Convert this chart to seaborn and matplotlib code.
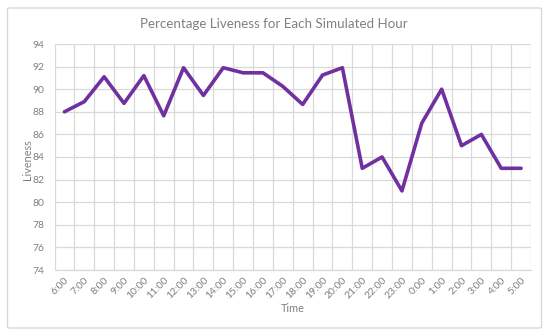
import matplotlib
matplotlib.use("Agg")
import matplotlib.pyplot as plt
from matplotlib.patches import FancyBboxPatch
from matplotlib.ticker import FixedLocator
import seaborn as sns
import pandas as pd

# -----------------------------
# Data
# -----------------------------
hours = ["6:00", "7:00", "8:00", "9:00", "10:00", "11:00", "12:00", "13:00",
         "14:00", "15:00", "16:00", "17:00", "18:00", "19:00", "20:00", "21:00",
         "22:00", "23:00", "0:00", "1:00", "2:00", "3:00", "4:00", "5:00"]
liveness = [88.0, 88.9, 91.1, 88.75, 91.2, 87.65, 91.9, 89.45,
            91.9, 91.45, 91.45, 90.25, 88.65, 91.25, 91.9, 83.0,
            84.0, 81.0, 87.0, 90.0, 85.0, 86.0, 83.0, 83.0]
y_ticks = [74, 76, 78, 80, 82, 84, 86, 88, 90, 92, 94]

df = pd.DataFrame({"Time": hours, "Liveness": liveness})

# -----------------------------
# Style
# -----------------------------
sns.set_theme(style="white")
plt.rcParams["font.family"] = ["Lato", "DejaVu Sans"]

grid_col = "#D9D9D9"
text_col = "#808080"

fig = plt.figure(figsize=(5.5, 3.36), dpi=100)
ax = fig.add_axes([54.5 / 550, 1 - 270 / 336, (531 - 54.5) / 550, (270 - 44) / 336])

# chart border
fig.patches.append(FancyBboxPatch((7.5 / 550, 8 / 336), 534 / 550, 320 / 336,
                                  boxstyle="round,pad=0,rounding_size=0.004",
                                  transform=fig.transFigure, fill=False,
                                  edgecolor="#D9D9D9", linewidth=1))

sns.lineplot(data=df, x="Time", y="Liveness", sort=False, ax=ax,
             color="#7030A0", linewidth=2.6)

# -----------------------------
# Axes
# -----------------------------
ax.set_xlim(-0.5, len(hours) - 0.5)
ax.set_ylim(74, 94)
ax.set_yticks(y_ticks)
ax.set_xticks(range(len(hours)))
ax.set_xticklabels(hours, rotation=45, ha="right", rotation_mode="anchor")
ax.xaxis.set_minor_locator(FixedLocator([i - 0.5 for i in range(len(hours) + 1)]))

ax.grid(True, axis="y", which="major", color=grid_col, linewidth=0.9)
ax.grid(True, axis="x", which="minor", color=grid_col, linewidth=0.9)
ax.grid(False, axis="x", which="major")
ax.tick_params(axis="both", which="both", length=0, colors=text_col, labelsize=7.5)
ax.tick_params(axis="x", pad=4)
ax.tick_params(axis="y", pad=7)

for side in ["top", "right", "left"]:
    ax.spines[side].set_visible(False)
ax.spines["bottom"].set_color(grid_col)
ax.spines["bottom"].set_linewidth(0.9)

ax.set_xlabel("Time", color=text_col, fontsize=7.8, va="center")
ax.set_ylabel("Liveness", color=text_col, fontsize=7.8, va="center")
ax.xaxis.set_label_coords(0.5, -(309 - 270) / 226)
ax.yaxis.set_label_coords(-(54.5 - 28) / 476.5, (270 - 160) / 226)

fig.text(274 / 550, 1 - 24 / 336, "Percentage Liveness for Each Simulated Hour",
         color=text_col, fontsize=9.6, ha="center", va="center")

fig.savefig("out.png", dpi=100, facecolor="white")
plt.close()
